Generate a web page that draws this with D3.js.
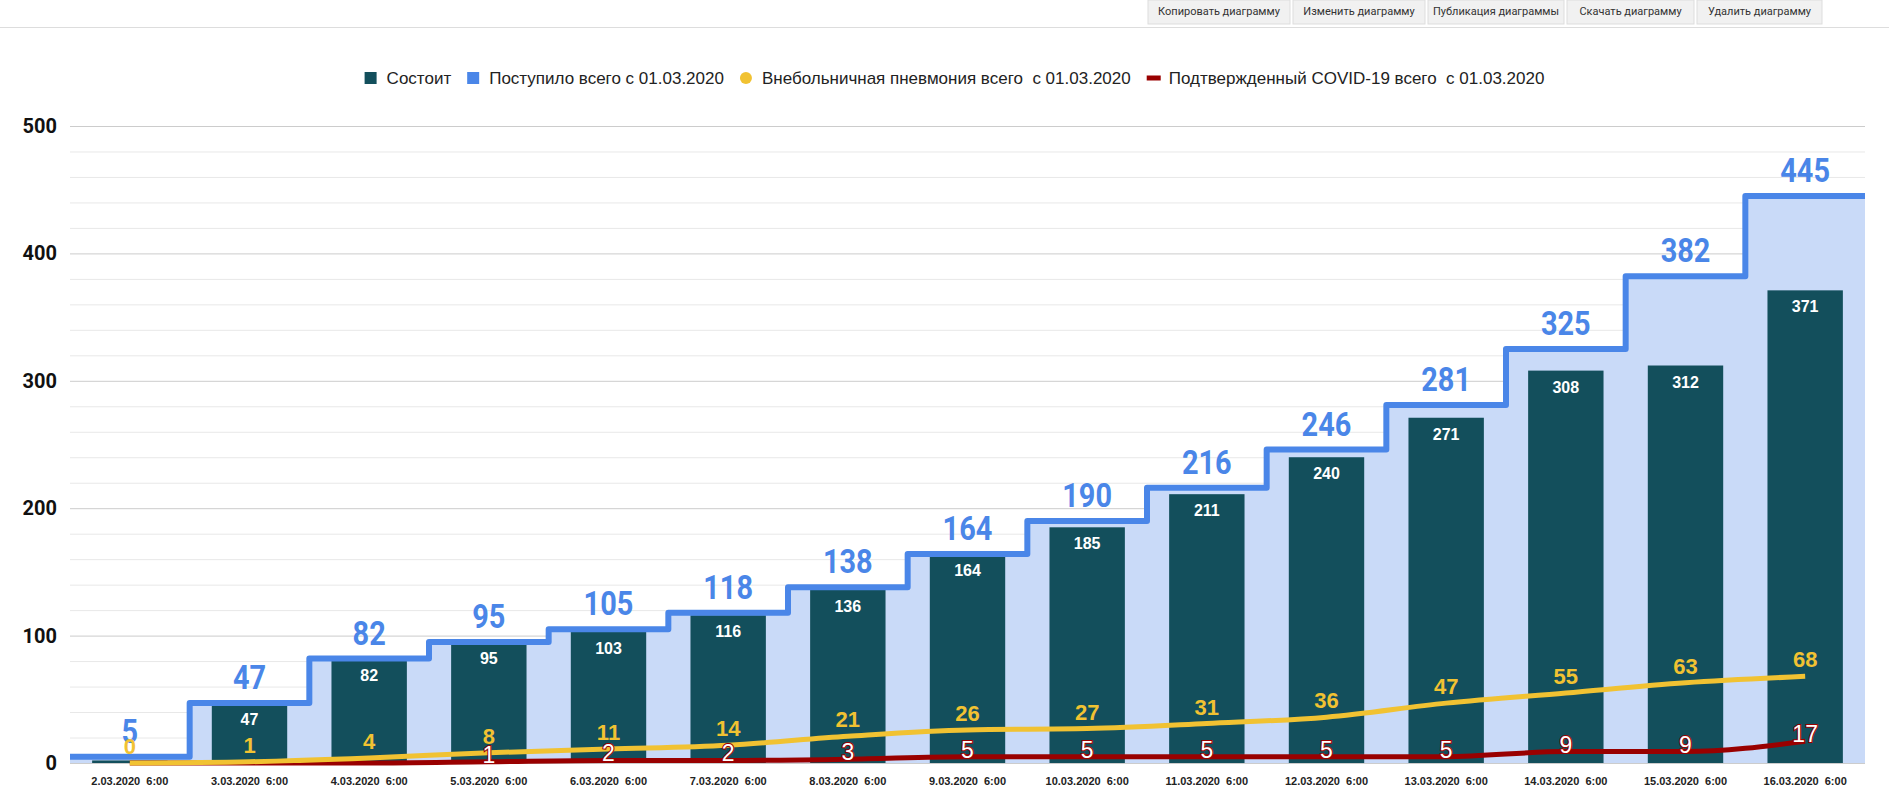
<!DOCTYPE html>
<html><head><meta charset="utf-8">
<script src="https://cdn.jsdelivr.net/npm/d3@7"></script>
<style>
body{margin:0;background:#fff;font-family:"Liberation Sans",Arial,sans-serif;}
.btn{font:11px Roboto,sans-serif;fill:#333;}
</style></head><body>
<svg id="chart" width="1889" height="800"></svg>
<script>
// Chart data
var categories = ['2.03.2020  6:00','3.03.2020  6:00','4.03.2020  6:00','5.03.2020  6:00','6.03.2020  6:00','7.03.2020  6:00','8.03.2020  6:00','9.03.2020  6:00','10.03.2020  6:00','11.03.2020  6:00','12.03.2020  6:00','13.03.2020  6:00','14.03.2020  6:00','15.03.2020  6:00','16.03.2020  6:00'];
var sostoit = [2,47,82,95,103,116,136,164,185,211,240,271,308,312,371];
var postupilo = [5,47,82,95,105,118,138,164,190,216,246,281,325,382,445];
var pneumonia = [0,1,4,8,11,14,21,26,27,31,36,47,55,63,68];
var covid = [0,0,0,1,2,2,3,5,5,5,5,5,9,9,17];
var yTicks = [0,100,200,300,400,500];
var buttons = ['Копировать диаграмму','Изменить диаграмму','Публикация диаграммы','Скачать диаграмму','Удалить диаграмму'];
var legendItems = [
    {name:'Состоит', color:'#134f5c', shape:'square'},
    {name:'Поступило всего с 01.03.2020', color:'#4a86e8', shape:'square'},
    {name:'Внебольничная пневмония всего  с 01.03.2020', color:'#f1c232', shape:'circle'},
    {name:'Подтвержденный COVID-19 всего  с 01.03.2020', color:'#990000', shape:'line'}
];

var svg = d3.select('#chart');
var margin = {left:70, right:24, top:126, bottom:37};
var W = 1889, H = 800;

// Toolbar at top
svg.append('line').attr('x1',0).attr('x2',W).attr('y1',27.5).attr('y2',27.5).attr('stroke','#ddd');
var bw = [142,132,136,127,125], bx = 1148;
buttons.forEach(function(b,i){
    var g = svg.append('g').attr('transform','translate('+bx+',0)');
    g.append('rect').attr('width',bw[i]).attr('height',24).attr('fill','#f1f1f1').attr('stroke','#ddd');
    g.append('text').attr('class','btn').attr('x',bw[i]/2).attr('y',15).attr('text-anchor','middle').text(b);
    bx += bw[i]+3;
});

// Scales
var x = d3.scaleBand().domain(categories).range([margin.left, W-margin.right]).paddingInner(0.37).paddingOuter(0.185);
var y = d3.scaleLinear().domain([0,500]).range([H-margin.bottom, margin.top]);
var step = x.step();
var cx = function(d,i){return x(categories[i])+x.bandwidth()/2};

// Grid
svg.append('g').selectAll('line').data(d3.range(0,501,20)).enter().append('line')
    .attr('x1',margin.left).attr('x2',W-margin.right)
    .attr('y1',function(d){return y(d)+0.5}).attr('y2',function(d){return y(d)+0.5})
    .attr('stroke',function(d){return d%100==0 ? '#ccc' : '#e8e8e8'});

svg.append('g').selectAll('text').data(yTicks).enter().append('text')
    .attr('x',57).attr('y',function(d){return y(d)+7}).attr('text-anchor','end')
    .attr('font-family','Roboto').attr('font-weight','bold').attr('font-size',20).attr('fill','#111')
    .text(function(d){return d});

// Step area + line for Поступило
var stepPts = [];
postupilo.forEach(function(v,i){
    var x0 = margin.left + i*step;
    stepPts.push([x0, v]); stepPts.push([x0+step, v]);
});
var area = d3.area().x(function(d){return d[0]}).y0(y(0)).y1(function(d){return y(d[1])});
svg.append('path').datum(stepPts).attr('d',area).attr('fill','#c9daf8');
var stepLine = d3.line().x(function(d){return d[0]}).y(function(d){return y(d[1])});

// Bars
svg.append('g').selectAll('rect').data(sostoit).enter().append('rect')
    .attr('x',function(d,i){return x(categories[i])}).attr('width',x.bandwidth())
    .attr('y',function(d){return y(d)}).attr('height',function(d){return y(0)-y(d)})
    .attr('fill','#134f5c');
sostoit.forEach(function(d,i){
    if(i==0) return;
    svg.append('text').attr('x',cx(d,i)).attr('y',y(d)+22).attr('text-anchor','middle')
        .attr('font-weight','bold').attr('font-size',16).attr('fill','#fff').text(d);
});

svg.append('path').datum(stepPts).attr('d',stepLine).attr('fill','none')
    .attr('stroke','#4a86e8').attr('stroke-width',6).attr('stroke-linejoin','round');

// Labels for Поступило
svg.append('g').selectAll('text').data(postupilo).enter().append('text')
    .attr('x',cx).attr('y',function(d){return y(d)-14}).attr('text-anchor','middle')
    .attr('font-family','Roboto').attr('font-weight','bold').attr('font-size',34).attr('fill','#4a86e8')
    .attr('transform',function(d,i){var c=cx(d,i);return 'translate('+c+',0) scale(0.85,1) translate('+(-c)+',0)'})
    .text(function(d){return d});

// Lines
var curve = d3.line().x(cx).y(function(d){return y(d)}).curve(d3.curveMonotoneX);
svg.append('path').datum(covid).attr('d',curve).attr('fill','none').attr('stroke','#990000').attr('stroke-width',5);
svg.append('path').datum(pneumonia).attr('d',curve).attr('fill','none').attr('stroke','#f1c232').attr('stroke-width',5);

svg.append('g').selectAll('text').data(pneumonia).enter().append('text')
    .attr('x',cx).attr('y',function(d){return y(d)-9}).attr('text-anchor','middle')
    .attr('font-weight','bold').attr('font-size',22).attr('fill','#f1c232')
    .text(function(d){return d});
covid.forEach(function(d,i){
    if(i<3) return;
    svg.append('text').attr('x',cx(d,i)).attr('y',y(d)+1).attr('text-anchor','middle')
        .attr('font-size',23).attr('fill','#fff').attr('stroke','#990000').attr('stroke-width',2)
        .attr('paint-order','stroke').text(d);
});

// X axis labels
svg.append('g').selectAll('text').data(categories).enter().append('text')
    .attr('x',function(d){return x(d)+x.bandwidth()/2}).attr('y',H-15).attr('text-anchor','middle')
    .attr('font-weight','bold').attr('font-size',11).attr('fill','#222').attr('xml:space','preserve')
    .text(function(d){return d});

// Legend
var lg = svg.append('g');
var lx = 0;
legendItems.forEach(function(it){
    var g = lg.append('g').attr('transform','translate('+lx+',0)');
    if(it.shape=='square') g.append('rect').attr('x',0).attr('y',-6).attr('width',12).attr('height',12).attr('fill',it.color);
    else if(it.shape=='circle') g.append('circle').attr('cx',6).attr('cy',0).attr('r',6).attr('fill',it.color);
    else g.append('rect').attr('x',0).attr('y',-2.5).attr('width',14).attr('height',5).attr('fill',it.color);
    var t = g.append('text').attr('x',22).attr('y',6).attr('font-size',17).attr('fill','#222').attr('xml:space','preserve').text(it.name);
    lx += 22 + t.node().getComputedTextLength() + 16;
});
lg.attr('transform','translate('+((W-lx+16)/2+10)+',78)');
</script>
</body></html>
